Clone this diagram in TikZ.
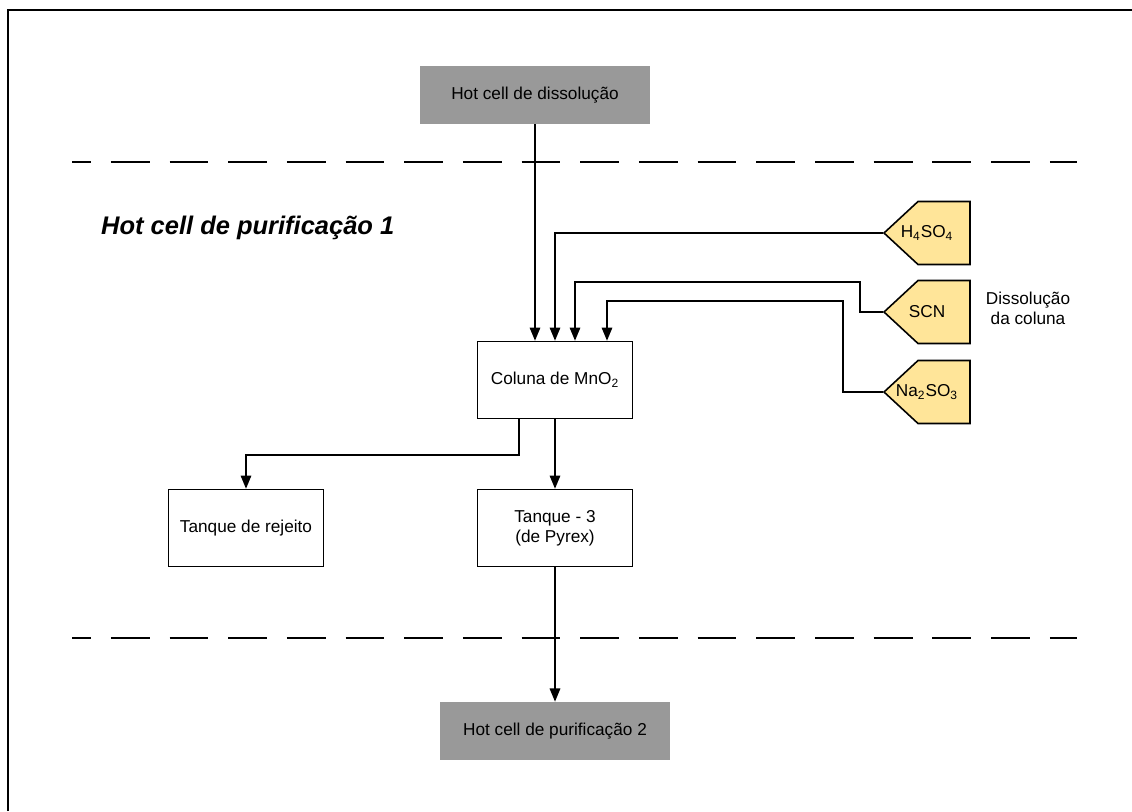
\documentclass[tikz,border=0pt]{standalone}
\usepackage{fontspec}
\setmainfont{Liberation Sans}
\usetikzlibrary{positioning,arrows.meta,calc}
\definecolor{cellgray}{RGB}{153,153,153}
\definecolor{feedyellow}{RGB}{255,229,153}

\begin{document}
\begin{tikzpicture}[x=0.02cm,y=-0.02cm,
    every node/.style={font=\fontsize{9.8}{11.5}\selectfont},
    cell/.style={fill=cellgray,minimum width=4.62cm,minimum height=1.16cm,inner sep=0pt},
    tank/.style={draw,line width=0.9pt,minimum width=3.1cm,minimum height=1.54cm,align=center,inner sep=0pt},
    feed/.style={minimum width=1.76cm,minimum height=1.3cm,inner sep=0pt,
        path picture={\draw [line width=0.9pt,fill=feedyellow]
            ($(path picture bounding box.west)+(1,0)$) --
            ($(path picture bounding box.north west)+(35,1)$) --
            ($(path picture bounding box.north east)+(-1,1)$) --
            ($(path picture bounding box.south east)+(-1,-1)$) --
            ($(path picture bounding box.south west)+(35,-1)$) -- cycle;}},
    flow/.style={-{Triangle[length=7.5pt,width=6pt]},line width=0.85pt},
    wall/.style={line width=0.9pt,dash pattern=on 22.1pt off 11.3pt,dash phase=11.3pt}]
            \useasboundingbox (0,0) rectangle (1132,811);
            \draw [line width=1.1pt] (8,811) -- (8,10) -- (1132,10);

            \node [cell] (dissol) at (535,95) {Hot cell de dissolução};
            \node [cell] (purif2) at (555,731) {Hot cell de purificação 2};
            \node [anchor=west,font=\fontsize{14.5}{16}\selectfont\bfseries\itshape] (area) at (95,228) {Hot cell de purificação 1};

            \node [tank] (coluna) at (555,380) {Coluna de MnO\textsubscript{2}};
            \node [tank] (rejeito) at (246,528) {Tanque de rejeito};
            \node [tank] (tanque3) at (555,528) {Tanque - 3\\(de Pyrex)};

            \node [feed] (h4so4) at (927,233) {H\textsubscript{4}SO\textsubscript{4}};
            \node [feed] (scn) at (927,312) {SCN};
            \node [feed] (na2so3) at (927,392) {Na\textsubscript{2}SO\textsubscript{3}};
            \node [align=center] (dissnote) at (1028,308) {Dissolução\\da coluna};

            \draw [wall] (72,162) -- (1077,162);
            \draw [wall] (72,638) -- (1077,638);

            \draw [flow] (dissol.south) -- (dissol.south |- coluna.north);
            \draw [flow] (h4so4.west) -| (coluna.north);
            \draw [flow] (scn.west) -- (860,312) |- (575,282) -- (575,282 |- coluna.north);
            \draw [flow] (na2so3.west) -- (843,392) |- (607,301) -- (607,301 |- coluna.north);
            \draw [flow] (519,0 |- coluna.south) -- (519,455) -| (rejeito.north);
            \draw [flow] (coluna.south) -- (tanque3.north);
            \draw [flow] (tanque3.south) -- (purif2.north);
        \end{tikzpicture}
\end{document}
